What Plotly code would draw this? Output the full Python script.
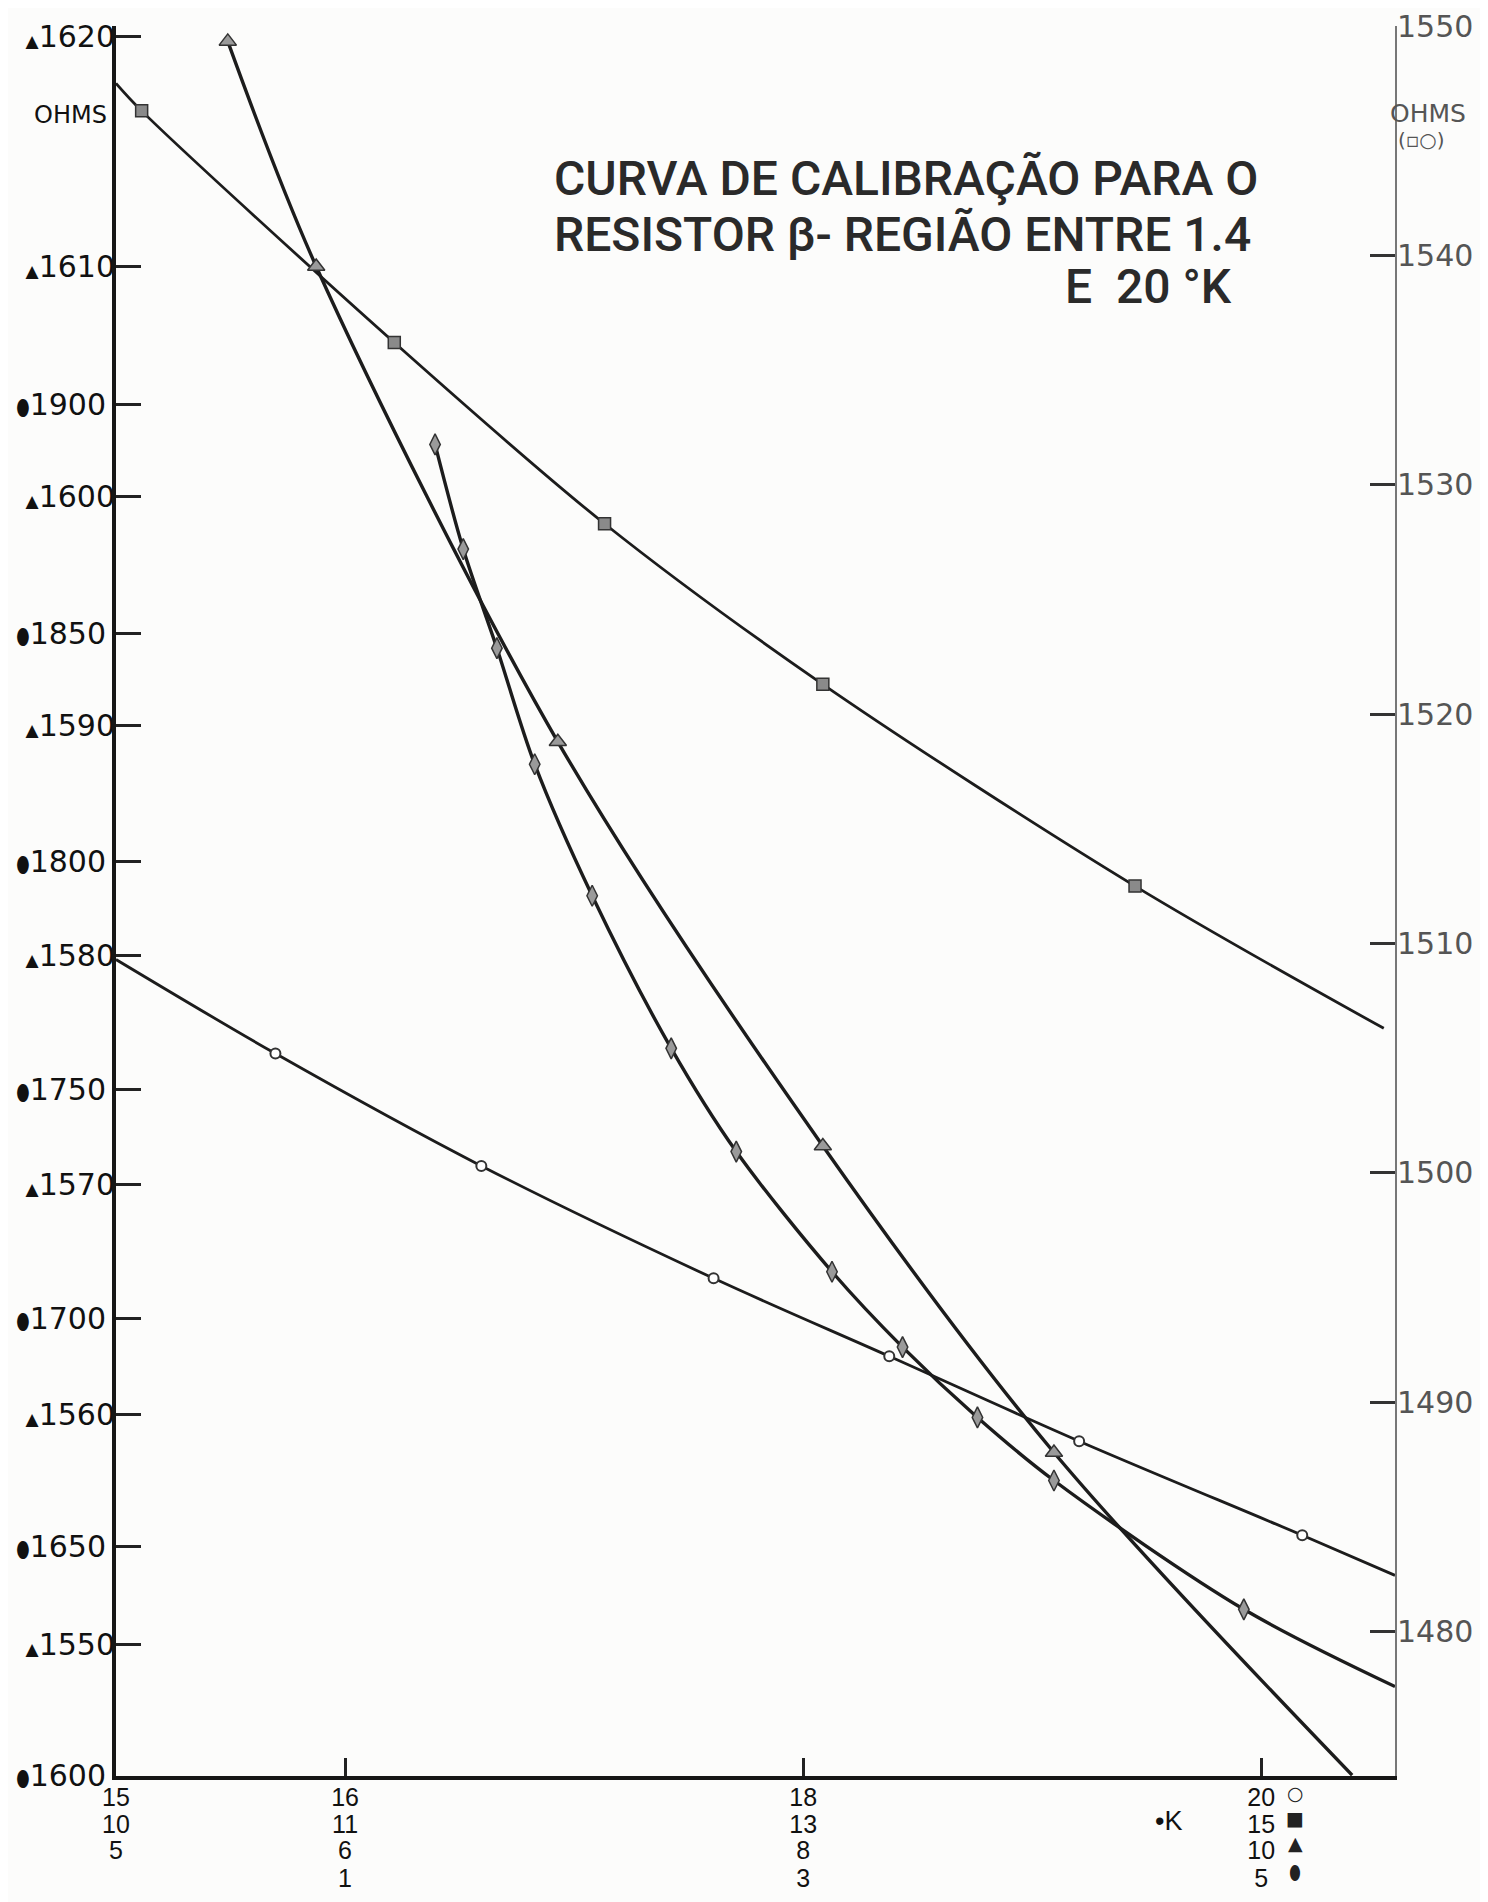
import plotly.graph_objects as go

# ---------------- data ----------------
# o  series : 15 - 20 K, right axis (ohms)
circle_T = [15.696, 16.595, 17.609, 18.376, 19.205, 20.179]
circle_R = [1505.2, 1500.3, 1495.4, 1492.0, 1488.3, 1484.2]
circle_curve_T = [15.0, 15.696, 16.595, 17.609, 18.376, 19.205, 20.179, 20.584]
circle_curve_R = [1509.3, 1505.2, 1500.3, 1495.4, 1492.0, 1488.3, 1484.2, 1482.45]

# square series : 10 - 15 K, right axis (ohms)
square_T = [10.112, 11.215, 12.133, 13.086, 14.449]
square_R = [1546.3, 1536.2, 1528.3, 1521.3, 1512.5]
square_curve_T = [10.0, 10.112, 11.215, 12.133, 13.086, 14.449, 15.535]
square_curve_R = [1547.5, 1546.3, 1536.2, 1528.3, 1521.3, 1512.5, 1506.3]

# triangle series : 5 - 10 K, left axis (triangle scale)
tri_T = [5.488, 5.874, 6.929, 8.086, 9.095]
tri_R = [1619.8, 1610.0, 1589.3, 1571.7, 1558.35]
tri_curve_T = [5.488, 5.874, 6.929, 8.086, 9.095, 10.397]
tri_curve_R = [1619.8, 1610.0, 1589.3, 1571.7, 1558.35, 1544.3]

# drop series : 1.4 - 5 K, left axis (drop scale)
drop_T = [1.393, 1.516, 1.663, 1.828, 2.079, 2.424, 2.708, 3.126, 3.434, 3.761, 4.095, 4.924]
drop_R = [1891.3, 1868.4, 1846.7, 1821.3, 1792.5, 1759.1, 1736.5, 1710.2, 1693.7, 1678.3, 1664.5, 1636.3]
drop_curve_T = drop_T + [5.584]
drop_curve_R = drop_R + [1619.4]

# axis ticks
x_circle_ticks = [15, 16, 18, 20]
x_square_ticks = [10, 11, 13, 15]
x_tri_ticks = [5, 6, 8, 10]
x_drop_ticks = [1, 3, 5]
y_tri_ticks = [1550, 1560, 1570, 1580, 1590, 1600, 1610, 1620]
y_drop_ticks = [1600, 1650, 1700, 1750, 1800, 1850, 1900]
y_right_ticks = [1480, 1490, 1500, 1510, 1520, 1530, 1540, 1550]

# ---------------- layout geometry ----------------
W, H = 1488, 1902
ML, MR, MT, MB = 108, 101, 18, 0
PLOT_BOTTOM = 1784
PH = H - MT - MB
PW = W - ML - MR


def py(Y):
    return (H - MB - Y) / PH


def px(X):
    return (X - ML) / PW


y0 = py(PLOT_BOTTOM)
INK = "#1c1c1c"
GRAY_FILL = "#9a9a9a"
NB = "\u00a0"

fig = go.Figure()


def curve(T, R, xa, ya, width):
    fig.add_trace(go.Scatter(x=T, y=R, xaxis=xa, yaxis=ya, mode="lines",
                             line=dict(shape="spline", smoothing=0.9, color=INK, width=width),
                             hoverinfo="skip", showlegend=False))


def marks(T, R, xa, ya, symbol, size, fill, lw):
    fig.add_trace(go.Scatter(x=T, y=R, xaxis=xa, yaxis=ya, mode="markers",
                             marker=dict(symbol=symbol, size=size, color=fill,
                                         line=dict(color="#333333", width=lw)),
                             showlegend=False))


curve(circle_curve_T, circle_curve_R, "x", "y3", 2.8)
curve(square_curve_T, square_curve_R, "x2", "y3", 2.8)
curve(tri_curve_T, tri_curve_R, "x3", "y2", 3.4)
curve(drop_curve_T, drop_curve_R, "x4", "y", 3.4)

marks(circle_T, circle_R, "x", "y3", "circle", 10, "white", 2)
marks(square_T, square_R, "x2", "y3", "square", 12, "#8a8a8a", 1.5)
marks(tri_T, tri_R, "x3", "y2", "triangle-up", 15, GRAY_FILL, 1.5)
marks(drop_T, drop_R, "x4", "y", "diamond-tall", 15, GRAY_FILL, 1.5)

LEFT_FONT = dict(family="DejaVu Sans", size=30, color="#111")
BOTTOM_FONT = dict(family="Liberation Sans Narrow, Liberation Sans", size=25, color="#111")
RIGHT_FONT = dict(family="DejaVu Sans", size=30, color="#555")

common_x = dict(showgrid=False, zeroline=False)
row_pos = [1815, 1841, 1870]  # free-axis line positions (px) for rows 2-4

fig.update_layout(
    width=W, height=H,
    margin=dict(l=ML, r=MR, t=MT, b=MB),
    paper_bgcolor="#fcfcfb", plot_bgcolor="rgba(0,0,0,0)",
    showlegend=False,
    xaxis=dict(domain=[0, 1], range=[15, 20.584], anchor="y",
               tickvals=x_circle_ticks, ticktext=[str(v) for v in x_circle_ticks],
               ticks="inside", ticklen=18, tickwidth=2.5, tickcolor="#222",
               showline=True, linewidth=4, linecolor="#161616",
               tickfont=BOTTOM_FONT, ticklabelstandoff=-4, **common_x),
    xaxis2=dict(range=[10, 15.584], overlaying="x", anchor="free", position=py(row_pos[0]),
                side="bottom", tickvals=x_square_ticks, ticktext=[str(v) for v in x_square_ticks],
                ticks="", showline=False, tickfont=BOTTOM_FONT, **common_x),
    xaxis3=dict(range=[5, 10.584], overlaying="x", anchor="free", position=py(row_pos[1]),
                side="bottom", tickvals=x_tri_ticks, ticktext=[str(v) for v in x_tri_ticks],
                ticks="", showline=False, tickfont=BOTTOM_FONT, **common_x),
    xaxis4=dict(range=[0, 5.584], overlaying="x", anchor="free", position=py(row_pos[2]),
                side="bottom", tickvals=x_drop_ticks, ticktext=[str(v) for v in x_drop_ticks],
                ticks="", showline=False, tickfont=BOTTOM_FONT, **common_x),
    yaxis=dict(domain=[y0, 1], range=[1599.8, 1982.9], anchor="x", side="left",
               tickvals=y_drop_ticks,
               ticktext=["<span style='font-size:22px'>⬮</span>" + str(v) for v in y_drop_ticks],
               ticks="inside", ticklen=25, tickwidth=3, tickcolor="#222",
               showline=True, linewidth=4, linecolor="#161616",
               showgrid=False, zeroline=False, tickfont=LEFT_FONT),
    yaxis2=dict(range=[1544.26, 1620.47], overlaying="y", anchor="x", side="left",
                tickvals=y_tri_ticks,
                ticktext=["<span style='font-size:17px'>▲</span>" + str(v) for v in y_tri_ticks],
                ticks="inside", ticklen=25, tickwidth=3, tickcolor="#222",
                showline=False, showgrid=False, zeroline=False, tickfont=LEFT_FONT),
    yaxis3=dict(range=[1473.7, 1550.0], overlaying="y", anchor="x", side="right",
                tickvals=y_right_ticks, ticktext=[str(v) for v in y_right_ticks],
                ticks="inside", ticklen=25, tickwidth=2.5, tickcolor="#333",
                showline=True, linewidth=2, linecolor="#777",
                showgrid=False, zeroline=False, tickfont=RIGHT_FONT, ticklabelstandoff=-6),
)

TITLE_FONT = dict(family="Roboto", size=48, color="#2a2a2a", weight=500)
ann = []
ann.append(dict(text="CURVA DE CALIBRAÇÃO PARA O", x=px(544), y=py(172), xref="paper", yref="paper",
                xanchor="left", yanchor="middle", showarrow=False, font=TITLE_FONT))
ann.append(dict(text="RESISTOR β- REGIÃO ENTRE 1.4", x=px(544), y=py(228), xref="paper", yref="paper",
                xanchor="left", yanchor="middle", showarrow=False, font=TITLE_FONT))
ann.append(dict(text="E" + NB + NB + "20" + NB + "°K", x=px(1055), y=py(281), xref="paper", yref="paper",
                xanchor="left", yanchor="middle", showarrow=False, font=TITLE_FONT))
ann.append(dict(text="OHMS", x=px(101), y=py(108), xref="paper", yref="paper",
                xanchor="right", yanchor="middle", showarrow=False,
                font=dict(family="DejaVu Sans", size=24, color="#111")))
ann.append(dict(text="OHMS", x=px(1380), y=py(106), xref="paper", yref="paper",
                xanchor="left", yanchor="middle", showarrow=False,
                font=dict(family="DejaVu Sans", size=25, color="#555")))
ann.append(dict(text="(▫○)", x=px(1388), y=py(133), xref="paper", yref="paper",
                xanchor="left", yanchor="middle", showarrow=False,
                font=dict(family="DejaVu Sans", size=20, color="#555")))
ann.append(dict(text="•K", x=px(1160), y=py(1829), xref="paper", yref="paper",
                xanchor="center", yanchor="middle", showarrow=False,
                font=dict(family="Liberation Sans", size=27, color="#111")))
sym_rows = [("○", 1801), ("■", 1826), ("▲", 1852), ("⬮", 1881)]
for s, Y in sym_rows:
    ann.append(dict(text=s, x=20, xref="x", y=py(Y), yref="paper", xshift=34,
                    xanchor="center", yanchor="middle", showarrow=False,
                    font=dict(family="DejaVu Sans", size=19, color="#222")))
fig.update_layout(annotations=ann)

fig.write_html("out.html")
